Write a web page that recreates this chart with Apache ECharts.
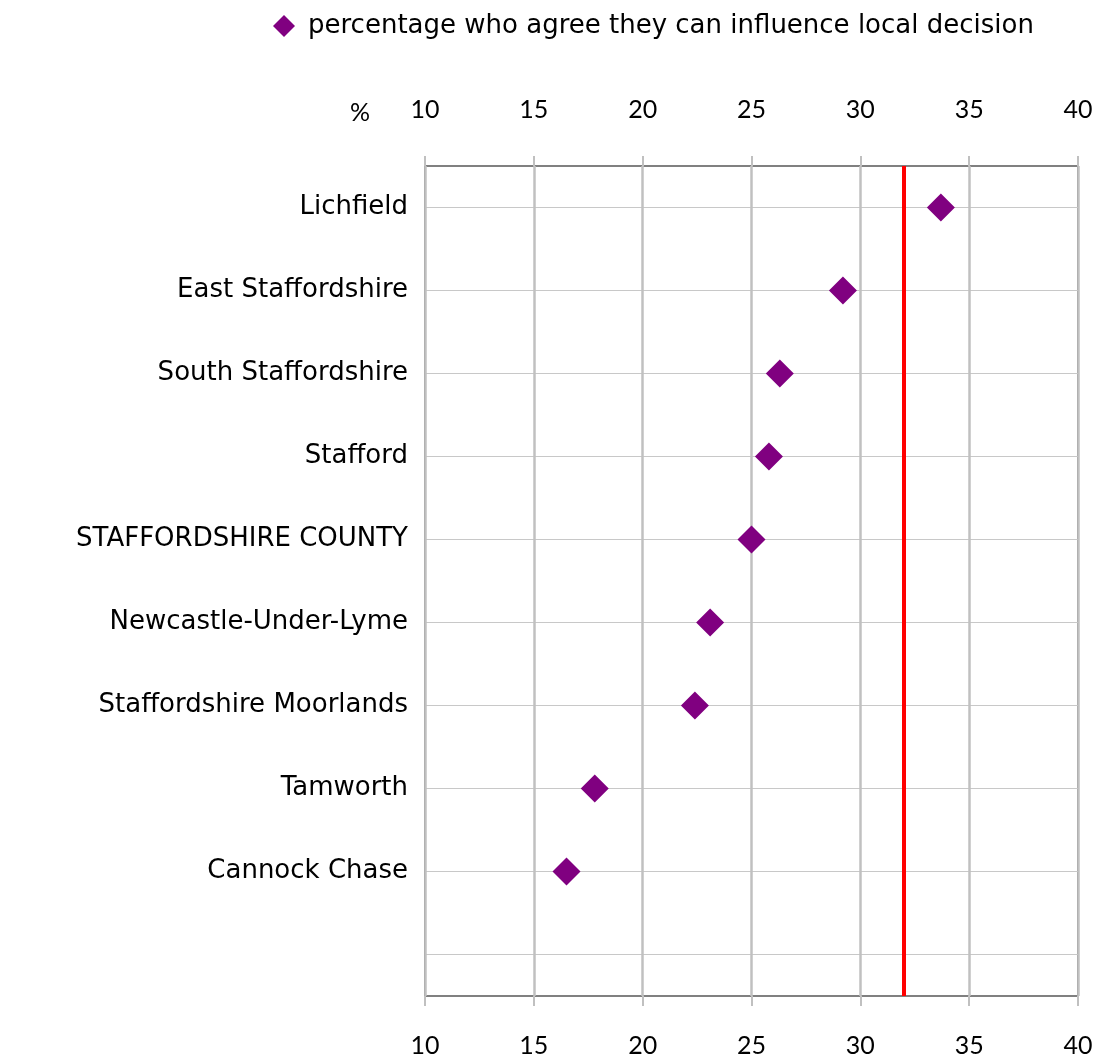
<!DOCTYPE html>
<html>
<head>
<meta charset="utf-8">
<script src="https://cdn.jsdelivr.net/npm/echarts@6/dist/echarts.min.js"></script>
<style>
html,body{margin:0;padding:0;background:#fff;}
#chart{width:1108px;height:1058px;}
</style>
</head>
<body>
<div id="chart"></div>
<script>
const categories = ['Lichfield','East Staffordshire','South Staffordshire','Stafford','STAFFORDSHIRE COUNTY','Newcastle-Under-Lyme','Staffordshire Moorlands','Tamworth','Cannock Chase',' '];
const values = [33.7, 29.2, 26.3, 25.8, 25.0, 23.1, 22.4, 17.8, 16.5];
const seriesName = 'percentage who agree they can influence local decision';
const referenceValue = 32;
const xTicks = {min: 10, max: 40, interval: 5};

const FONT = 'DejaVu Sans';
const NUMFONT = 'Lato';
const chart = echarts.init(document.getElementById('chart'));
const xAxisBase = {
  type: 'value', min: xTicks.min, max: xTicks.max, interval: xTicks.interval,
  axisLine: {show: false},
  axisTick: {show: true, length: 10, lineStyle: {color: '#c0c0c0', width: 2}},
  axisLabel: {color: '#000', fontFamily: NUMFONT, fontSize: 25}
};
chart.setOption({
  animation: false,
  legend: {
    top: 8, left: 268,
    icon: 'diamond', itemWidth: 22, itemHeight: 22, itemGap: 8,
    textStyle: {fontFamily: FONT, fontSize: 26, color: '#000', padding: [0, 0, 0, 8]},
    data: [seriesName]
  },
  graphic: [{type: 'text', left: 350, top: 100, style: {text: '%', fontFamily: NUMFONT, fontSize: 25, fill: '#000'}}],
  grid: {left: 425, right: 30, top: 166, bottom: 62, show: true, borderColor: '#808080', borderWidth: 2, backgroundColor: 'transparent'},
  xAxis: [
    Object.assign({}, xAxisBase, {position: 'bottom', axisLabel: Object.assign({}, xAxisBase.axisLabel, {margin: 37}),
      splitLine: {show: true, lineStyle: {color: '#c0c0c0', width: 2.5}}}),
    Object.assign({}, xAxisBase, {position: 'top', axisLabel: Object.assign({}, xAxisBase.axisLabel, {margin: 44}),
      splitLine: {show: false}})
  ],
  yAxis: {
    type: 'category', inverse: true, data: categories,
    axisLine: {show: false}, axisTick: {show: false},
    axisLabel: {color: '#000', fontFamily: FONT, fontSize: 26, margin: 17, verticalAlign: 'middle', lineHeight: 26, padding: [6, 0, 0, 0]},
    splitLine: {show: true, alignWithLabel: true, lineStyle: {color: '#c8c8c8', width: 1}}
  },
  series: [{
    name: seriesName, type: 'scatter', xAxisIndex: 0,
    symbol: 'diamond', symbolSize: 28,
    itemStyle: {color: '#800080', opacity: 1},
    data: values.map((v, i) => [v, categories[i]]),
    markLine: {
      silent: true, symbol: 'none', label: {show: false},
      lineStyle: {color: '#ff0000', width: 4, type: 'solid'},
      data: [{xAxis: referenceValue}]
    },
    z: 5
  }]
});
</script>
</body>
</html>
